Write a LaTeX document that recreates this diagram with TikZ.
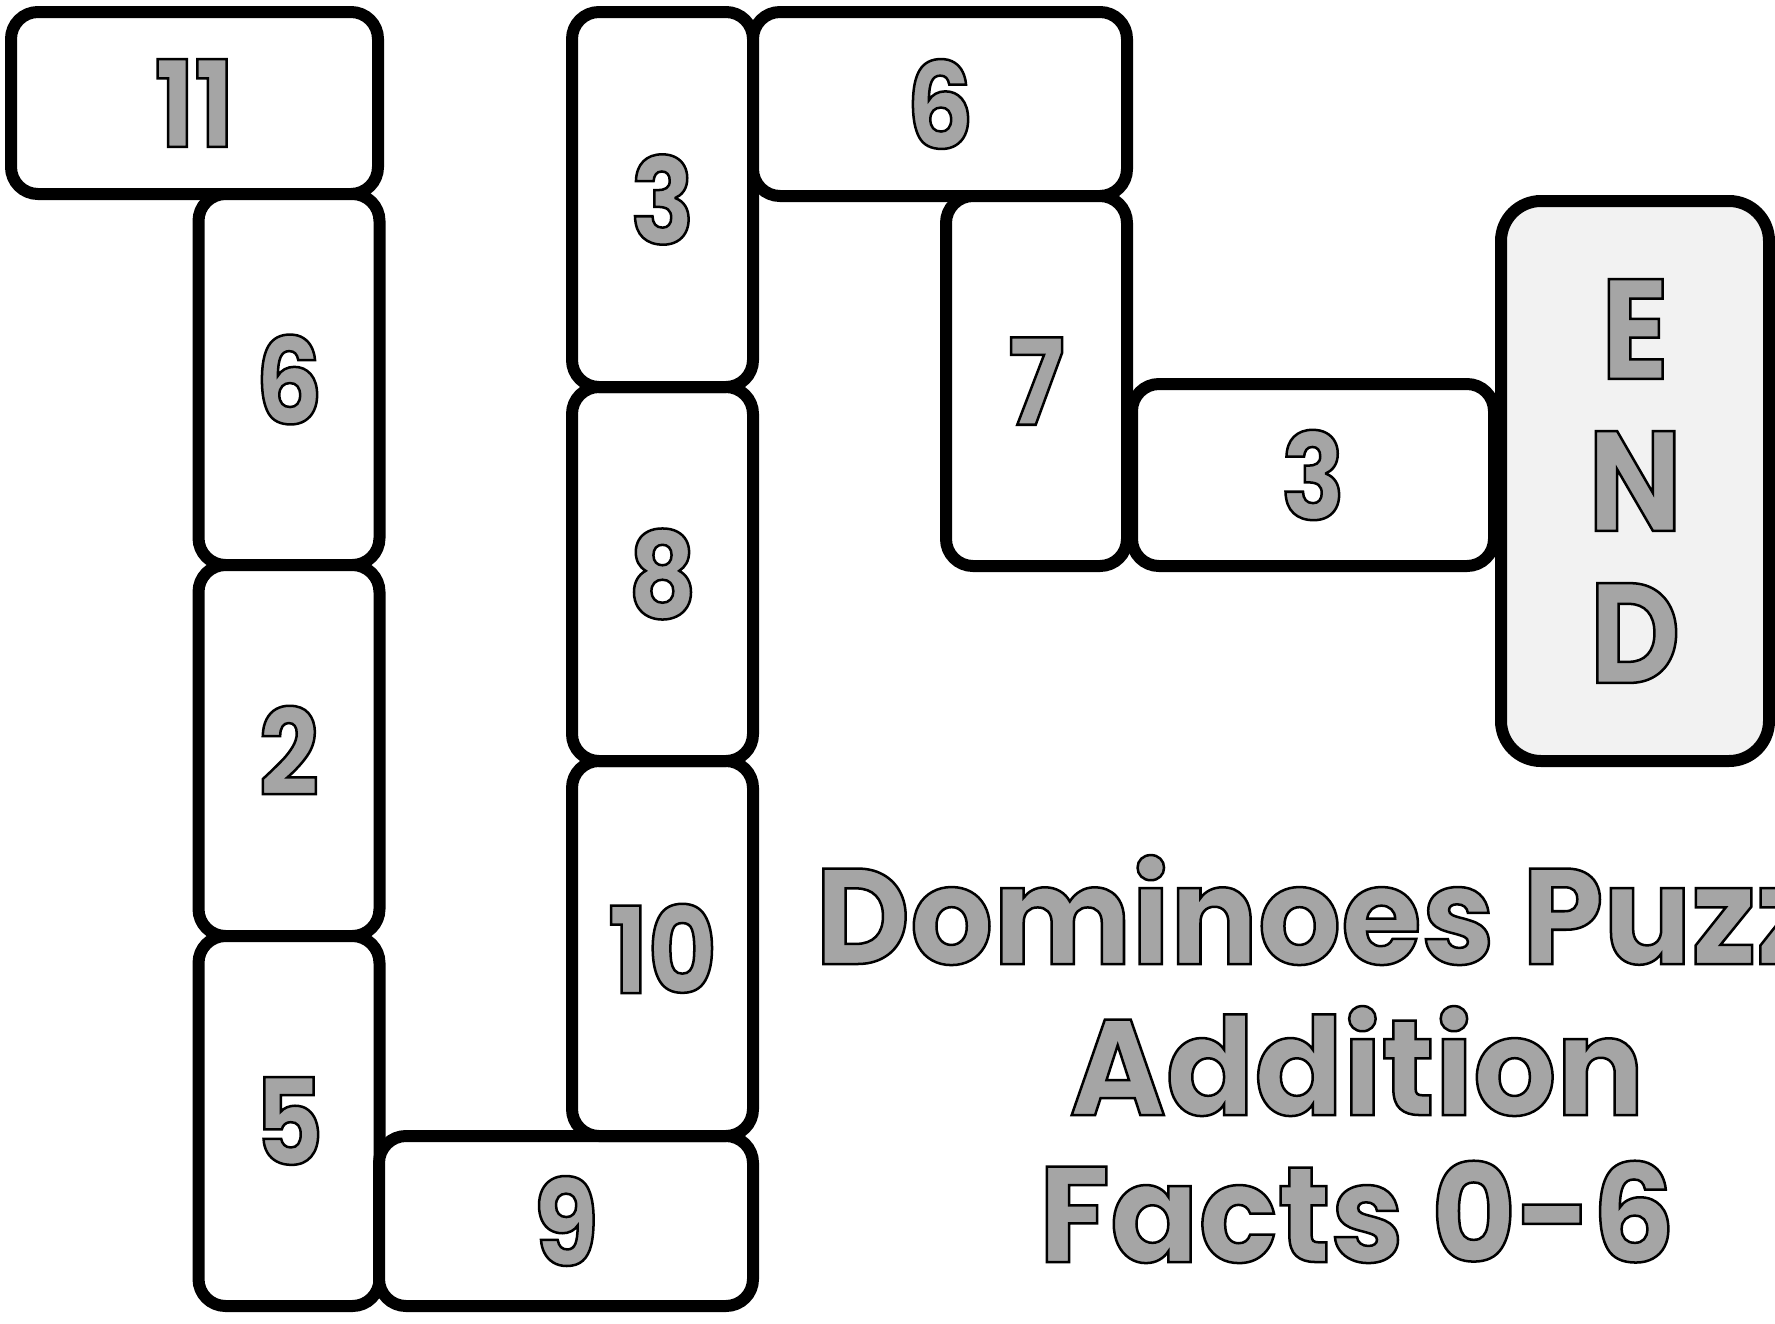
\documentclass[tikz,border=0pt]{standalone}
\usepackage{fontspec}
\setmainfont{Poppins}
\newfontfamily\narrowfont{Poppins}[FakeStretch=0.88]
\newfontfamily\titlefont{Poppins}[FakeStretch=0.96]
\definecolor{endgray}{RGB}{242,242,242}
\definecolor{hatchgray}{RGB}{165,165,165}

% outlined, grey-filled letters
\newcommand{\hatched}[1]{\special{pdf:literal direct 2 Tr 2.5 w 0 G}#1\special{pdf:literal direct 0 Tr}}

\begin{document}
\begin{tikzpicture}[x=1pt, y=-1pt,
      tile/.style={draw, line width=12pt, rounded corners=27pt, fill=white,
                   inner sep=0pt, outer sep=0pt, text=hatchgray,
                   font=\narrowfont\bfseries\fontsize{120}{120}\selectfont},
      vtile/.style={tile, minimum width=181pt, minimum height=372pt},
      htile/.style={tile, minimum width=368pt, minimum height=182pt},
      endtile/.style={tile, fill=endgray, rounded corners=40pt, align=center,
                   minimum width=268pt, minimum height=560pt,
                   font=\narrowfont\bfseries\fontsize{142}{152}\selectfont},
      title/.style={anchor=base, text=hatchgray, inner sep=0pt,
                   font=\titlefont\bfseries\fontsize{136}{150}\selectfont}]
    \clip (0,0) rectangle (1775,1323);

    % left column
    \node[htile, minimum width=367pt] (t11) at (194.5,103) {\hatched{11}};
    \node[vtile, minimum height=371pt] (t6a) at (289,379.5) {\hatched{6}};
    \node[vtile, minimum height=371pt] (t2)  at (289,750.5) {\hatched{2}};
    \node[vtile, minimum height=370pt] (t5)  at (289,1121) {\hatched{5}};
    \node[htile, minimum width=374pt, minimum height=170pt] (t9) at (566,1221) {\hatched{9}};

    % middle column
    \node[vtile, minimum height=375pt] (t10) at (662.5,948.5) {\hatched{10}};
    \node[vtile, minimum height=374pt] (t8)  at (662.5,574) {\hatched{8}};
    \node[vtile, minimum height=375pt] (t3a) at (662.5,199.5) {\hatched{3}};

    % right part
    \node[htile, minimum width=374pt, minimum height=184pt] (t6b) at (940,104) {\hatched{6}};
    \node[vtile, minimum height=370pt] (t7)  at (1036.5,381) {\hatched{7}};
    \node[htile, minimum width=362pt] (t3b) at (1313,475) {\hatched{3}};
    \node[endtile] (tend) at (1635,481) {\hatched{E}\\\hatched{N}\\\hatched{D}};

    % title
    \node[title, anchor=base west] (title1) at (815,964) {\hatched{Dominoes Puzzle}};
    \node[title] (title2) at (1357,1115) {\hatched{Addition}};
    \node[title] (title3) at (1357,1262) {\hatched{Facts 0-6}};
  \end{tikzpicture}
\end{document}
